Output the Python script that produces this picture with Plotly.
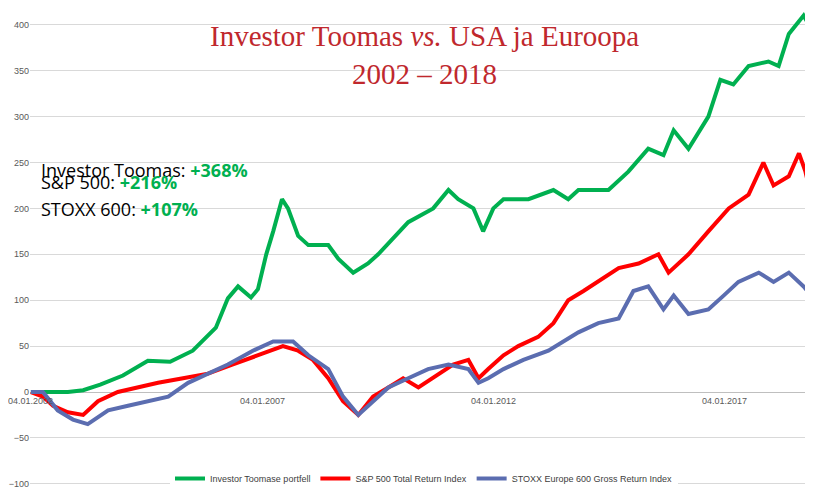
import plotly.graph_objects as go
import pandas as pd

tick_dates = ["2002-01-04", "2007-01-04", "2012-01-04", "2017-01-04"]
tick_labels = ["04.01.2002", "04.01.2007", "04.01.2012", "04.01.2017"]

toomas_years = [2002.0, 2002.8, 2003.13, 2003.5, 2003.99, 2004.53, 2005.01, 2005.5, 2006.0, 2006.26,
                2006.48, 2006.76, 2006.91, 2007.09, 2007.24, 2007.43, 2007.56, 2007.78, 2008.0, 2008.43,
                2008.65, 2008.97, 2009.29, 2009.51, 2010.16, 2010.7, 2011.03, 2011.24, 2011.57, 2011.78,
                2012.0, 2012.22, 2012.76, 2013.3, 2013.62, 2013.84, 2014.49, 2014.92, 2015.35, 2015.68,
                2015.9, 2016.22, 2016.65, 2016.91, 2017.19, 2017.52, 2017.95, 2018.17, 2018.39, 2018.71,
                2018.88, 2018.97]
toomas = [0, 0, 2, 8, 18, 34, 33, 45, 70, 102, 115, 103, 112, 150, 175, 210, 200, 170, 160, 160,
          145, 130, 140, 150, 185, 200, 220, 210, 200, 175, 200, 210, 210, 220, 210, 220, 220, 240,
          265, 258, 285, 265, 300, 340, 335, 355, 360, 355, 390, 410, 395, 368]

sp_years = [2002.0, 2002.26, 2002.48, 2002.8, 2003.13, 2003.45, 2003.88, 2004.32, 2004.75, 2005.29,
            2005.83, 2006.37, 2006.91, 2007.45, 2007.78, 2008.1, 2008.43, 2008.75, 2009.08, 2009.4,
            2009.73, 2010.05, 2010.38, 2010.81, 2011.13, 2011.46, 2011.68, 2011.89, 2012.22, 2012.54,
            2012.97, 2013.3, 2013.62, 2013.95, 2014.27, 2014.71, 2015.14, 2015.57, 2015.79, 2016.22,
            2016.65, 2017.09, 2017.52, 2017.84, 2018.06, 2018.39, 2018.61, 2018.75, 2018.88, 2018.97]
sp500 = [0, -5, -15, -22, -25, -10, 0, 5, 10, 15, 20, 30, 40, 50, 45, 35, 15, -10, -25, -5,
         5, 15, 5, 20, 30, 35, 15, 25, 40, 50, 60, 75, 100, 110, 120, 135, 140, 150, 130, 150,
         175, 200, 215, 250, 225, 235, 260, 240, 212, 218]

stoxx_years = [2002.0, 2002.26, 2002.58, 2002.91, 2003.23, 2003.67, 2004.1, 2004.53, 2004.97, 2005.4,
               2005.83, 2006.26, 2006.8, 2007.24, 2007.67, 2008.0, 2008.43, 2008.75, 2009.08, 2009.4,
               2009.73, 2010.16, 2010.59, 2011.03, 2011.46, 2011.68, 2011.89, 2012.22, 2012.65, 2013.19,
               2013.52, 2013.84, 2014.27, 2014.71, 2015.03, 2015.35, 2015.68, 2015.9, 2016.22, 2016.65,
               2016.98, 2017.3, 2017.74, 2018.06, 2018.39, 2018.71, 2018.88, 2018.97]
stoxx = [0, 0, -20, -30, -35, -20, -15, -10, -5, 10, 20, 30, 45, 55, 55, 40, 25, -5, -25, -10,
         5, 15, 25, 30, 25, 10, 15, 25, 35, 45, 55, 65, 75, 80, 110, 115, 90, 105, 85, 90,
         105, 120, 130, 120, 130, 115, 105, 110]


def to_dates(years):
    return [pd.Timestamp("2002-01-04") + pd.Timedelta(days=(y - 2002.0) * 365.25) for y in years]


fig = go.Figure()
fig.add_trace(go.Scatter(x=to_dates(toomas_years), y=toomas, mode="lines",
                         name="Investor Toomase portfell", line=dict(color="#00B050", width=4)))
fig.add_trace(go.Scatter(x=to_dates(sp_years), y=sp500, mode="lines",
                         name="S&P 500 Total Return Index", line=dict(color="#FF0000", width=4)))
fig.add_trace(go.Scatter(x=to_dates(stoxx_years), y=stoxx, mode="lines",
                         name="STOXX Europe 600 Gross Return Index", line=dict(color="#5B6DB0", width=4)))

for d, lab in zip(tick_dates, tick_labels):
    fig.add_annotation(x=d, y=0, text=lab, showarrow=False, yanchor="top", yshift=-2,
                       font=dict(size=9, color="#595959", family="Liberation Sans Narrow, Liberation Sans"))

fig.add_annotation(x=0.5, y=0.985, xref="paper", yref="paper", showarrow=False, yanchor="top",
                   text="Investor Toomas <i>vs.</i> USA ja Euroopa<br>2002 – 2018",
                   font=dict(size=29, color="#C0282D", family="Liberation Serif"))

stats = [("Investor Toomas: ", "+368%"), ("S&P 500: ", "+216%"), ("STOXX 600: ", "+107%")]
for i, (name, val) in enumerate(stats):
    fig.add_annotation(x=0.012, y=0.70 - i * 0.055, xref="paper", yref="paper", showarrow=False,
                       xanchor="left", text=name + "<b><span style='color:#00B050'>" + val + "</span></b>",
                       font=dict(size=18, color="black", family="Open Sans"))

fig.update_layout(
    width=813, height=497, plot_bgcolor="white", paper_bgcolor="white",
    margin=dict(l=22, r=3, t=3, b=12, autoexpand=False),
    showlegend=True,
    legend=dict(orientation="h", x=0.5, xanchor="center", y=0.0, yanchor="bottom",
                font=dict(size=9, color="#404040", family="Liberation Sans Narrow, Liberation Sans")),
    xaxis=dict(range=[pd.Timestamp("2001-12-28"), pd.Timestamp("2019-01-12")], showticklabels=False,
               showgrid=False, zeroline=False),
    yaxis=dict(range=[-110, 415], tickvals=[-100, -50, 0, 50, 100, 150, 200, 250, 300, 350, 400],
               gridcolor="#D9D9D9", zeroline=True, zerolinecolor="#BFBFBF", zerolinewidth=1,
               tickfont=dict(size=9, color="#595959", family="Liberation Sans Narrow, Liberation Sans")),
)
fig.write_html("out.html")
